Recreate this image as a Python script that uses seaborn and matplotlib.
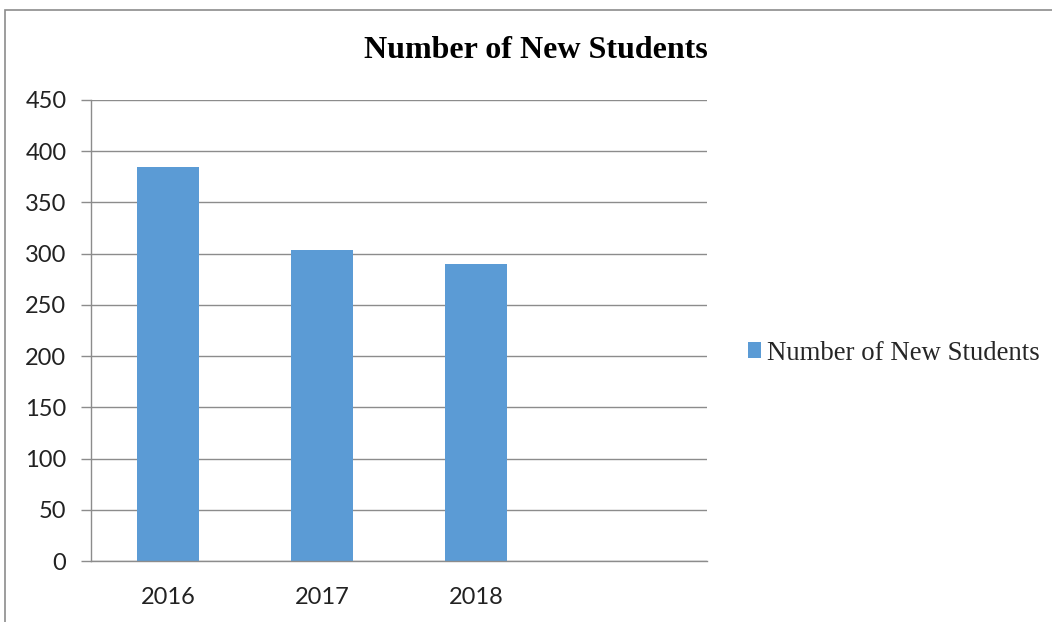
import matplotlib
matplotlib.use("Agg")
import matplotlib.pyplot as plt
from matplotlib.patches import Rectangle, Patch
import seaborn as sns
import pandas as pd

years = ["2016", "2017", "2018"]
new_students = [385, 304, 290]
series_name = "Number of New Students"
y_ticks = [0, 50, 100, 150, 200, 250, 300, 350, 400, 450]

sns.set_theme(style="white")
plt.rcParams["font.family"] = ["Lato", "DejaVu Sans"]

df = pd.DataFrame({"Year": years, "Value": new_students, "Series": series_name})

W, H = 1052, 622
fig = plt.figure(figsize=(W / 100, H / 100), dpi=100)
ax = fig.add_axes([91 / W, 1 - 561 / H, (707 - 91) / W, (561 - 100) / H])

sns.barplot(data=df, x="Year", y="Value", hue="Series", order=years,
            palette=["#5B9BD5"], width=0.4, ax=ax, legend=False,
            edgecolor="#5B9BD5", linewidth=0, saturation=1)

ax.set_xlim(-0.5, 3.5)
ax.set_ylim(0, 450)
ax.set_yticks(y_ticks)
ax.set_yticklabels([str(v) for v in y_ticks])
ax.yaxis.grid(True, color="#8c8c8c", linewidth=1.0)
ax.set_axisbelow(True)
ax.set_xlabel("")
ax.set_ylabel("")

for s in ["top", "right"]:
    ax.spines[s].set_visible(False)
for s in ["left", "bottom"]:
    ax.spines[s].set_color("#8c8c8c")
    ax.spines[s].set_linewidth(1.0)

ax.set_xticks([-0.5, 0.5, 1.5, 2.5, 3.5], minor=True)
ax.tick_params(axis="x", which="major", length=0, pad=18.5, labelsize=17, labelcolor="#222222")
ax.tick_params(axis="x", which="minor", length=6, width=1, color="#8c8c8c", direction="out")
ax.tick_params(axis="y", which="major", length=7.2, width=1, color="#8c8c8c", direction="out",
               left=True, pad=10.5, labelsize=17, labelcolor="#222222")

fig.text(536 / W, 1 - 50 / H, series_name, ha="center", va="center",
         fontsize=23, fontweight="bold", family=["Liberation Serif"], color="black")

handle = Patch(facecolor="#5B9BD5", edgecolor="none", label=series_name)
leg = fig.legend(handles=[handle], loc="center left", bbox_to_anchor=(748 / W, 1 - 353 / H),
                 frameon=False, prop={"family": "Liberation Serif", "size": 19.3},
                 handlelength=0.5, handleheight=0.5, handletextpad=0.2, borderpad=0,
                 borderaxespad=0)

fig.patches.append(Rectangle((5 / W, -0.1), 1.2, (1 - 10 / H) + 0.1, transform=fig.transFigure,
                             fill=False, edgecolor="#8c8c8c", linewidth=1.2))

fig.savefig("out.png", dpi=100)
